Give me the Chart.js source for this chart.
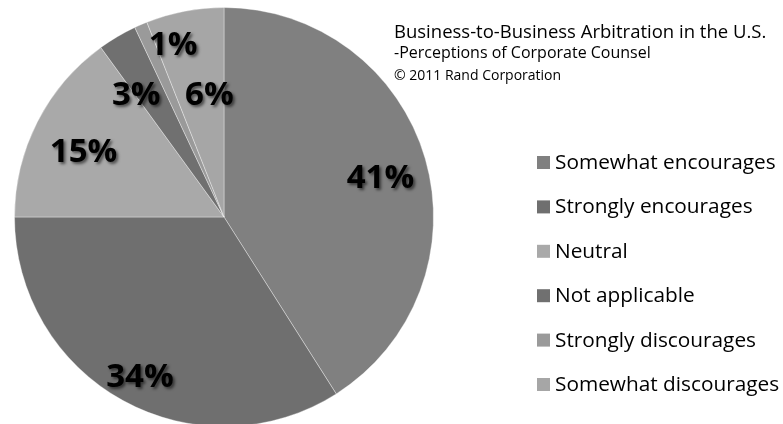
<!DOCTYPE html>
<html>
<head>
<meta charset="utf-8">
<script src="https://cdn.jsdelivr.net/npm/chart.js@4.4.0/dist/chart.umd.min.js"></script>
<style>
  html, body { margin: 0; padding: 0; background: #fff; overflow: hidden; }
  #wrap { position: relative; width: 783px; height: 431px; }
</style>
</head>
<body>
<div id="wrap"><canvas id="myChart"></canvas></div>
<script>
// chart data
var categories = ['Somewhat encourages', 'Strongly encourages', 'Neutral', 'Not applicable', 'Strongly discourages', 'Somewhat discourages'];
var shares = [41, 34, 15, 3, 1, 6];
var sliceColors = ['#808080', '#6f6f6f', '#a9a9a9', '#707070', '#9a9a9a', '#a6a6a6'];
var titleLines = ['Business-to-Business Arbitration in the U.S.', '-Perceptions of Corporate Counsel', '\u00A9 2011 Rand Corporation'];

// label placement tweaks (fraction of radius, degrees off the slice middle)
var labelRadius = [0.77, 0.86, 0.74, 0.72, 0.86, 0.59];
var labelTurn = [2, -1, -2, -5, 7, 4];

var FONT = "'Open Sans', 'Noto Sans', sans-serif";

var decorations = {
    id: 'decorations',
    afterDraw: function (chart) {
        var ctx = chart.ctx;
        var meta = chart.getDatasetMeta(0);
        var ds = chart.data.datasets[0];

        // percentage labels
        ctx.save();
        ctx.font = 'bold 33px ' + FONT;
        ctx.textAlign = 'center';
        ctx.textBaseline = 'middle';
        ctx.fillStyle = '#000';
        ctx.shadowColor = 'rgba(0,0,0,0.55)';
        ctx.shadowBlur = 3;
        ctx.shadowOffsetX = 2;
        ctx.shadowOffsetY = 2;
        meta.data.forEach(function (arc, i) {
            var p = arc.getProps(['x', 'y', 'startAngle', 'endAngle', 'outerRadius'], true);
            var mid = (p.startAngle + p.endAngle) / 2 + labelTurn[i] * Math.PI / 180;
            var r = p.outerRadius * labelRadius[i];
            ctx.fillText(ds.data[i] + '%', p.x + Math.cos(mid) * r, p.y + Math.sin(mid) * r + 1);
        });
        ctx.restore();

        // title block
        ctx.save();
        ctx.fillStyle = '#000';
        ctx.textAlign = 'left';
        ctx.textBaseline = 'alphabetic';
        ctx.font = '18.5px ' + FONT;
        ctx.fillText(titleLines[0], 394, 38);
        ctx.font = '16px ' + FONT;
        ctx.fillText(titleLines[1], 394, 58);
        ctx.font = '14px ' + FONT;
        ctx.fillText(titleLines[2], 394, 80);
        ctx.restore();

        // legend
        ctx.save();
        ctx.font = '20.8px ' + FONT;
        ctx.textBaseline = 'alphabetic';
        chart.data.labels.forEach(function (lab, i) {
            var base = 169 + i * 44.4;
            ctx.fillStyle = ds.backgroundColor[i];
            ctx.fillRect(537, base - 13, 13, 13);
            ctx.fillStyle = '#000';
            ctx.fillText(lab, 555, base);
        });
        ctx.restore();
    }
};

var ctx = document.querySelector('#myChart').getContext('2d');
var myChart = new Chart(ctx, {
    type: 'pie',
    data: {
        labels: categories,
        datasets: [{
            data: shares,
            backgroundColor: sliceColors,
            borderColor: 'rgba(255,255,255,0.35)',
            borderWidth: 1
        }]
    },
    options: {
        responsive: true,
        maintainAspectRatio: false,
        animation: false,
        layout: { padding: { left: 14, right: 349, top: 7, bottom: 4 } },
        plugins: {
            legend: { display: false },
            tooltip: { enabled: false }
        }
    },
    plugins: [decorations]
});
</script>
</body>
</html>
